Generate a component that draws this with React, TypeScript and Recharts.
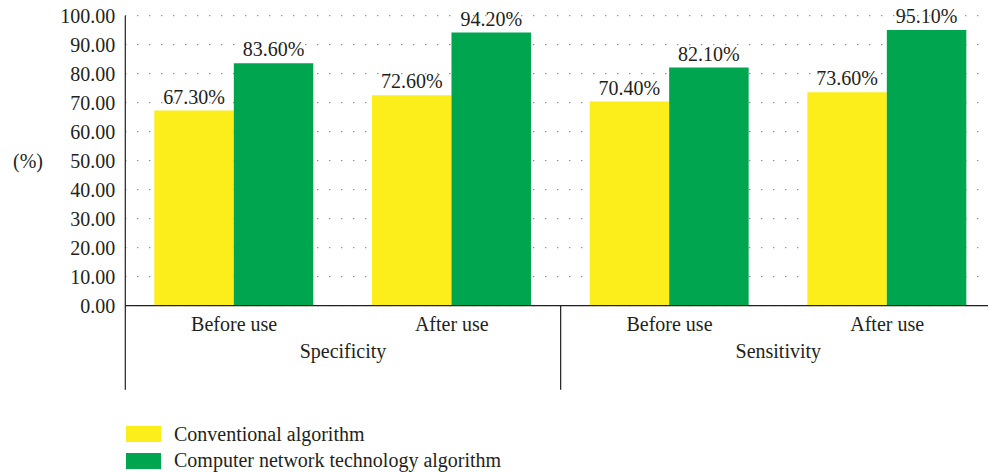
import { BarChart, Bar, XAxis, YAxis, CartesianGrid, Legend, LabelList } from 'recharts';

const periods = ['Before use', 'After use', 'Before use', 'After use'];
const groups = ['Specificity', 'Specificity', 'Sensitivity', 'Sensitivity'];
const conventional = [67.3, 72.6, 70.4, 73.6];
const network = [83.6, 94.2, 82.1, 95.1];
const yTicks = [0, 10, 20, 30, 40, 50, 60, 70, 80, 90, 100];

const data = periods.map((period, i) => ({
  period,
  group: groups[i],
  conventional: conventional[i],
  network: network[i],
}));

const TEXT = '#231f20';
const FONT = 'Liberation Serif, DejaVu Serif, serif';

const CHART_W = 1000;
const CHART_H = 472;
const Y_AXIS_W = 125.3;
const MARGIN = { top: 15.7, right: 4, left: 0, bottom: 82.3 };
const BAND = (CHART_W - Y_AXIS_W - MARGIN.left - MARGIN.right) / periods.length;

const PeriodTick = ({ x, y, payload, index }: any) => {
  const last = index === periods.length - 1;
  return (
    <g>
      <text x={x} y={y + 25.3} textAnchor="middle" fill={TEXT} fontSize={20} fontFamily={FONT}>
        {payload.value}
      </text>
      {index % 2 === 0 && (
        <line x1={x - BAND / 2} x2={x - BAND / 2} y1={y} y2={y + 84} stroke={TEXT} strokeWidth={1.2} />
      )}
      {last && (
        <line x1={x + BAND / 2} x2={x + BAND / 2} y1={y} y2={y + 84} stroke={TEXT} strokeWidth={1.2} />
      )}
    </g>
  );
};

const renderLegend = (props: any) => {
  const { payload } = props;
  return (
    <div style={{ fontFamily: FONT, fontSize: 20, color: TEXT }}>
      {payload.map((entry: any) => (
        <div key={entry.value} style={{ display: 'flex', alignItems: 'center', height: 26.5 }}>
          <span style={{ display: 'inline-block', width: 35, height: 16, background: entry.color, marginRight: 13 }} />
          <span>{entry.value}</span>
        </div>
      ))}
    </div>
  );
};

export default function App() {
  return (
    <div
      style={{
        position: 'absolute',
        left: 0,
        top: 0,
        width: 988,
        height: 472,
        overflow: 'hidden',
        background: '#fff',
        fontFamily: FONT,
        fontSize: 20,
      }}
    >
      <BarChart width={CHART_W} height={CHART_H} data={data} margin={MARGIN} barGap={0}>
        <CartesianGrid xAxisId="x1" vertical={false} stroke="#444" strokeDasharray="1 11" />
        <XAxis
          xAxisId="x1"
          dataKey="period"
          height={30}
          interval={0}
          tickLine={false}
          tickSize={0}
          tickMargin={0}
          axisLine={{ stroke: TEXT, strokeWidth: 1.2 }}
          tick={<PeriodTick />}
        />
        <XAxis
          xAxisId="x2"
          dataKey="group"
          allowDuplicatedCategory={false}
          height={54}
          interval={0}
          tickLine={false}
          axisLine={false}
          tickSize={0}
          tickMargin={8}
          tick={{ fill: TEXT, fontSize: 20, fontFamily: FONT }}
        />
        <YAxis
          width={Y_AXIS_W}
          domain={[0, 100]}
          ticks={yTicks}
          interval={0}
          tickLine={false}
          tickSize={8}
          tickMargin={2}
          axisLine={{ stroke: TEXT, strokeWidth: 1.2 }}
          tickFormatter={(v: number) => v.toFixed(2)}
          tick={{ fill: TEXT, fontSize: 20, fontFamily: FONT }}
          label={{ value: '(%)', position: 'insideLeft', offset: 13, fill: TEXT, fontSize: 20, fontFamily: FONT }}
        />
        <Legend
          layout="vertical"
          align="center"
          verticalAlign="middle"
          itemSorter="dataKey"
          wrapperStyle={{ left: 126, top: 421, width: 500 }}
          content={renderLegend}
        />
        <Bar
          xAxisId="x1"
          dataKey="conventional"
          name="Conventional algorithm"
          fill="#FCEE1A"
          barSize={79.5}
          isAnimationActive={false}
        >
          <LabelList
            dataKey="conventional"
            position="top"
            offset={7}
            fill={TEXT}
            fontSize={20}
            fontFamily={FONT}
            formatter={(v: any) => `${Number(v).toFixed(2)}%`}
          />
        </Bar>
        <Bar
          xAxisId="x1"
          dataKey="network"
          name="Computer network technology algorithm"
          fill="#00A550"
          barSize={79.5}
          isAnimationActive={false}
        >
          <LabelList
            dataKey="network"
            position="top"
            offset={7}
            fill={TEXT}
            fontSize={20}
            fontFamily={FONT}
            formatter={(v: any) => `${Number(v).toFixed(2)}%`}
          />
        </Bar>
      </BarChart>
    </div>
  );
}
